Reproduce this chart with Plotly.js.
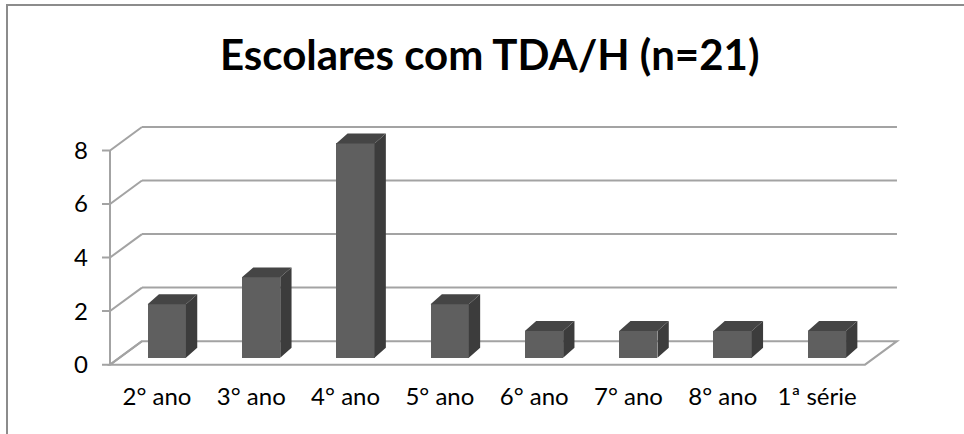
<!DOCTYPE html>
<html>
<head>
<meta charset="utf-8">
<script src="https://cdn.plot.ly/plotly-3.0.1.min.js"></script>
<style>
  html, body { margin: 0; padding: 0; background: #fff; }
  #wrap { position: relative; width: 964px; height: 434px; overflow: hidden; }
  #chart { position: absolute; left: 0; top: 0; width: 964px; height: 434px; }
  #frame { position: absolute; left: 6px; top: 4px; width: 1000px; height: 500px;
           border-left: 2px solid #8c8c8c; border-top: 2px solid #8c8c8c; pointer-events: none; }
</style>
</head>
<body>
<div id="wrap"><div id="chart"></div><div id="frame"></div></div>
<script>
// ---- data ----
const categories = ["2° ano", "3° ano", "4° ano", "5° ano", "6° ano", "7° ano", "8° ano", "1ª série"];
const values = [2, 3, 8, 2, 1, 1, 1, 1];
const yTicks = [0, 2, 4, 6, 8];
const titleText = "Escolares com TDA/H (n=21)";

// ---- 3D-look geometry (data units) ----
const xRange = [-0.583, 7.879];
const yRange = [-0.05, 8.95];
const axisX = -0.498;          // front-left axis position
const wallDx = 0.339, wallDy = 0.877;   // depth of floor / walls
const floorRight = 7.508;
const barOffset = -0.099, barWidth = 0.406, barBase = 0.26;
const barDx = 0.12, barDy = 0.373;

const gridColor = "#a3a3a3";
const idx = categories.map((c, i) => i);

const shapes = [];
// floor
shapes.push({type: "path", xref: "x", yref: "y", layer: "below",
  path: `M ${axisX},0 L ${floorRight},0 L ${floorRight + wallDx},${wallDy} L ${axisX + wallDx},${wallDy} Z`,
  line: {color: gridColor, width: 2}});
// back wall gridlines + left wall diagonals + ticks
yTicks.forEach(v => {
  if (v > 0) {
    shapes.push({type: "line", xref: "x", yref: "y", layer: "below",
      x0: axisX + wallDx, x1: floorRight + wallDx, y0: v + wallDy, y1: v + wallDy,
      line: {color: gridColor, width: 2}});
  }
  shapes.push({type: "path", xref: "x", yref: "y", layer: "below",
    path: `M ${xRange[0]},${v} L ${axisX},${v} L ${axisX + wallDx},${v + wallDy}`,
    line: {color: gridColor, width: 2}});
});
// front axis line
shapes.push({type: "line", xref: "x", yref: "y", layer: "below",
  x0: axisX, x1: axisX, y0: 0, y1: yTicks[yTicks.length - 1],
  line: {color: gridColor, width: 2}});

// side and top faces of bars
const sideX = [], sideY = [], topX = [], topY = [];
idx.forEach(i => {
  const xl = i + barOffset, xr = xl + barWidth;
  const yb = barBase, yt = barBase + values[i];
  sideX.push(xr, xr + barDx, xr + barDx, xr, xr, null);
  sideY.push(yb, yb + barDy, yt + barDy, yt, yb, null);
  topX.push(xl, xl + barDx, xr + barDx, xr, xl, null);
  topY.push(yt, yt + barDy, yt + barDy, yt, yt, null);
});

const traces = [
  {type: "bar", x: idx, y: values, base: barBase, width: barWidth, offset: barOffset,
   marker: {color: "#5f5f5f", line: {width: 0}}, hoverinfo: "skip", showlegend: false},
  {type: "scatter", mode: "lines", x: sideX, y: sideY, fill: "toself", fillcolor: "#3c3c3c",
   line: {width: 0, color: "#3c3c3c"}, hoverinfo: "skip", showlegend: false},
  {type: "scatter", mode: "lines", x: topX, y: topY, fill: "toself", fillcolor: "#454545",
   line: {width: 0, color: "#454545"}, hoverinfo: "skip", showlegend: false}
];

const layout = {
  width: 964, height: 434,
  margin: {l: 102, r: 64, t: 125, b: 68, pad: 0},
  paper_bgcolor: "#fff", plot_bgcolor: "rgba(0,0,0,0)",
  font: {family: "Lato, 'Open Sans', sans-serif", color: "#000"},
  title: {text: titleText, x: 0.508, xanchor: "center", y: 0.872, yanchor: "middle",
          font: {family: "Lato, 'Open Sans', sans-serif", size: 42, weight: 700, color: "#000"}},
  showlegend: false,
  xaxis: {range: xRange, tickmode: "array", tickvals: idx, ticktext: categories,
          showgrid: false, zeroline: false, showline: false, ticks: "",
          ticklabelstandoff: 14, tickfont: {size: 24, color: "#000"}, fixedrange: true},
  yaxis: {range: yRange, tickmode: "array", tickvals: yTicks, ticktext: yTicks.map(String),
          showgrid: false, zeroline: false, showline: false, ticks: "",
          ticklabelstandoff: 13, tickfont: {size: 24, color: "#000"}, fixedrange: true},
  shapes: shapes,
  bargap: 0
};

Plotly.newPlot("chart", traces, layout, {displayModeBar: false, staticPlot: true});
</script>
</body>
</html>
